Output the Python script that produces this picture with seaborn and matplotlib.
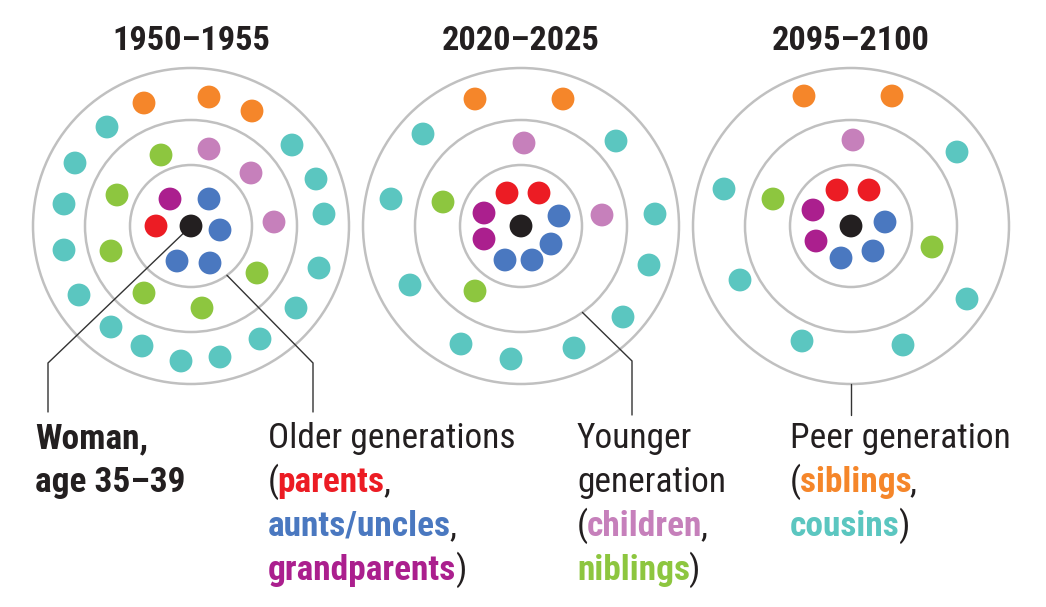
import matplotlib
matplotlib.use("Agg")
import numpy as np
import pandas as pd
import matplotlib.pyplot as plt
import seaborn as sns
from matplotlib.patches import Circle

# period shown above each diagram
periods = ["1950–1955", "2020–2025", "2095–2100"]

# colour for each kind of relative
kind_colors = {
    "woman": "#231f20",
    "parents": "#ec1c24",
    "aunts_uncles": "#4a78c0",
    "grandparents": "#ab1f8e",
    "children": "#c680bb",
    "niblings": "#8dc63f",
    "siblings": "#f5862a",
    "cousins": "#5bc6c0",
}

# offsets of every relative from the woman (px, y down)
dx_1950 = [0, -21, 18, -35, 29, -14, 19,
           -30, 18, 60, -74, 83, -80, 66, -47, 11,
           -47, 18, 61,
           -84, 101, -116, 125, -127, 133, -127, 128, -112, 105, -80, 69, -49, -10, 29]
dy_1950 = [0, -27, -27, 0, 4, 35, 37,
           -71, -77, -53, -31, -4, 25, 47, 67, 82,
           -123, -129, -115,
           -99, -81, -63, -47, -22, -12, 24, 42, 69, 82, 101, 113, 120, 135, 131]
kind_1950 = (["woman", "grandparents", "aunts_uncles", "parents", "aunts_uncles", "aunts_uncles", "aunts_uncles"]
             + ["niblings", "children", "children", "niblings", "children", "niblings", "niblings", "niblings", "niblings"]
             + ["siblings"] * 3 + ["cousins"] * 15)

dx_2020 = [0, -14, 18, -37, 38, -37, 30, -16, 11,
           3, -78, 81, -46,
           -46, 42,
           -98, 95, -130, 134, 128, -111, 102, -60, -10, 53]
dy_2020 = [0, -33, -33, -13, -10, 13, 18, 34, 34,
           -83, -24, -11, 65,
           -127, -127,
           -92, -85, -27, -12, 39, 59, 91, 118, 133, 122]
kind_2020 = (["woman", "parents", "parents", "grandparents", "aunts_uncles", "grandparents", "aunts_uncles", "aunts_uncles", "aunts_uncles"]
             + ["children", "niblings", "children", "niblings"]
             + ["siblings"] * 2 + ["cousins"] * 10)

dx_2095 = [0, -14, 18, -38, 34, -35, 22, -10,
           2, -78, 81,
           -47, 41,
           106, -127, -111, 116, -49, 52]
dy_2095 = [0, -36, -36, -16, -4, 15, 25, 32,
           -86, -27, 21,
           -130, -130,
           -74, -37, 54, 73, 115, 119]
kind_2095 = (["woman", "parents", "parents", "grandparents", "aunts_uncles", "grandparents", "aunts_uncles", "aunts_uncles"]
             + ["children", "niblings", "niblings"]
             + ["siblings"] * 2 + ["cousins"] * 6)

# legend blocks under the diagrams: (text, kind or None, bold)
legend_blocks = [
    [[("Woman,", None, True)], [("age 35–39", None, True)]],
    [[("Older generations", None, False)],
     [("(", None, False), ("parents", "parents", True), (",", None, False)],
     [("aunts/uncles", "aunts_uncles", True), (",", None, False)],
     [("grandparents", "grandparents", True), (")", None, False)]],
    [[("Younger", None, False)], [("generation", None, False)],
     [("(", None, False), ("children", "children", True), (",", None, False)],
     [("niblings", "niblings", True), (")", None, False)]],
    [[("Peer generation", None, False)],
     [("(", None, False), ("siblings", "siblings", True), (",", None, False)],
     [("cousins", "cousins", True), (")", None, False)]],
]
legend_x = [35, 268, 577, 790]

# narrow fonts first if present, otherwise Liberation Sans
FONT = ["Roboto Condensed", "Liberation Sans Narrow", "Liberation Sans", "DejaVu Sans"]
W, H = 1046, 607
centers_x = [191, 521, 851]
center_y = 226
ring_r = [61, 106, 158]

sns.set_theme(style="white")
plt.rcParams["font.family"] = FONT

frames = []
for cx, dx, dy, kd in zip(centers_x, [dx_1950, dx_2020, dx_2095],
                          [dy_1950, dy_2020, dy_2095], [kind_1950, kind_2020, kind_2095]):
    frames.append(pd.DataFrame({"x": cx + np.array(dx, float),
                                "y": center_y + np.array(dy, float),
                                "kind": kd}))
df = pd.concat(frames, ignore_index=True)

fig = plt.figure(figsize=(W / 100, H / 100), dpi=100)
ax = fig.add_axes([0, 0, 1, 1])

# connector lines: (panel, ring radius, angle deg, elbow x, elbow y, end y)
connectors = [(0, 0, 136.3, 48, 363, 412),
              (0, 61, 53.9, 313, 363, 412),
              (1, 106, 54.6, 632, 361, 415),
              (2, 158, 90, 851, 384, 415)]
for p, r, ang, ex, ey, endy in connectors:
    a = np.deg2rad(ang)
    sx = centers_x[p] + r * np.cos(a)
    sy = center_y + r * np.sin(a)
    ax.plot([sx, ex, ex], [sy, ey, endy], color="#333333", lw=1.0, zorder=2,
            solid_joinstyle="miter")

sns.scatterplot(data=df, x="x", y="y", hue="kind", palette=kind_colors,
                s=270, linewidth=0, legend=False, ax=ax, zorder=3)
for cx in centers_x:
    for r in ring_r:
        ax.add_patch(Circle((cx, center_y), r, fill=False, edgecolor="#c0c0c0", lw=1.8, zorder=1))
ax.set_xlim(0, W)
ax.set_ylim(H, 0)
ax.set_aspect("auto")
ax.axis("off")

fig.canvas.draw()
renderer = fig.canvas.get_renderer()


def fit_size(s, target, bold):
    t = ax.text(0, 0, s, fontsize=20, fontweight="bold" if bold else "normal")
    w = t.get_window_extent(renderer=renderer).width
    t.remove()
    return 20 * target / w


title_size = fit_size("1950–1955", 158, True)
body_size = np.mean([fit_size("Older generations", 252, False),
                     fit_size("Peer generation", 217, False),
                     fit_size("generation", 147, False)])

for cx, title in zip(centers_x, periods):
    ax.text(cx, 50, title, ha="center", va="baseline", fontsize=title_size,
            fontweight="bold", color="#231f20")

baselines = [448, 492, 536, 580]
for lx, block in zip(legend_x, legend_blocks):
    for line, base in zip(block, baselines):
        x = lx
        for s, kind, bold in line:
            col = kind_colors[kind] if kind else "#231f20"
            t = ax.text(x, base, s, ha="left", va="baseline", fontsize=body_size,
                        fontweight="bold" if bold else "normal", color=col)
            x += t.get_window_extent(renderer=renderer).width - 1.5

fig.savefig("out.png", dpi=100)
